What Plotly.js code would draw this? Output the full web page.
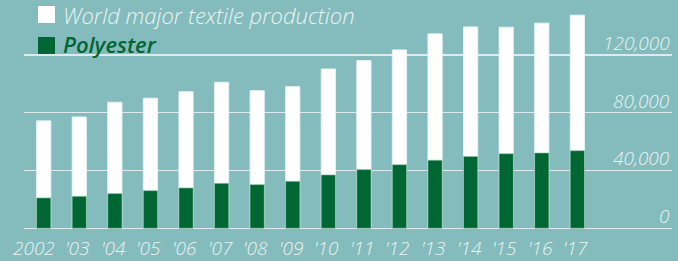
<!DOCTYPE html>
<html>
<head>
<meta charset="utf-8">
<script src="https://cdn.plot.ly/plotly-3.0.1.min.js"></script>
<style>html,body{margin:0;padding:0;background:#84bcbd;}#chart{width:678px;height:261px;}</style>
</head>
<body>
<div id="chart"></div>
<script>
// Data (thousand tonnes)
const years = ['2002', "'03", "'04", "'05", "'06", "'07", "'08", "'09", "'10", "'11", "'12", "'13", "'14", "'15", "'16", "'17"];
const totalProduction = [74300, 77000, 87200, 90000, 94500, 101000, 95200, 98000, 110200, 116000, 123400, 134500, 139300, 139100, 141900, 147400];
const polyester = [21000, 22100, 24000, 26000, 27900, 31100, 30200, 32500, 36900, 40600, 44000, 47100, 49600, 51600, 52100, 53700];
const yTickVals = [0, 40000, 80000, 120000];
const yTickText = ['0', '40,000', '80,000', '120,000'];
const legendNames = ['World major textile production', 'Polyester'];

const BG = '#84bcbd';
const GREEN = '#006633';
const LABEL = 'rgba(255,255,255,0.85)';
const FONT = '"Open Sans", sans-serif';

const traces = [
  {type: 'bar', x: years, y: totalProduction, name: legendNames[0],
   marker: {color: '#ffffff', line: {color: 'rgba(230,245,245,0.9)', width: 1}}, width: 0.4, hoverinfo: 'x+y'},
  {type: 'bar', x: years, y: polyester, name: legendNames[1],
   marker: {color: GREEN, line: {color: 'rgba(140,200,170,0.6)', width: 1}}, width: 0.4, hoverinfo: 'x+y'}
];

const annotations = [];
years.forEach(function (yr, i) {
  annotations.push({x: i, xref: 'x', y: 0, yref: 'paper', yshift: -2, text: yr, showarrow: false,
    xanchor: 'right', xshift: 13, yanchor: 'top',
    font: {family: FONT, size: 19, color: LABEL, style: 'italic', weight: 300}});
});
yTickVals.forEach(function (v, i) {
  annotations.push({x: 1, xref: 'paper', y: v, yref: 'y', yshift: -3, text: yTickText[i], showarrow: false,
    xanchor: 'right', yanchor: 'bottom', font: {family: FONT, size: 19, color: LABEL, style: 'italic', weight: 300}});
});
// legend texts
annotations.push({x: 62, xref: 'paper', y: 15, yref: 'paper', text: legendNames[0], showarrow: false, borderpad: 0,
  xanchor: 'left', yanchor: 'middle', font: {family: FONT, size: 22, color: LABEL, style: 'italic', weight: 300}});
annotations.push({x: 62, xref: 'paper', y: 44, yref: 'paper', text: legendNames[1], showarrow: false, borderpad: 0,
  xanchor: 'left', yanchor: 'middle', font: {family: FONT, size: 22, color: GREEN, style: 'italic', weight: 600}});

const W = 678, H = 261, ML = 24, MR = 6, MT = 0, MB = 30;
const pw = W - ML - MR, ph = H - MT - MB;
// convert pixel positions of the manual legend to paper coords
annotations.forEach(function (a) {
  if (a.xref === 'paper' && a.x > 1) { a.x = (a.x - ML) / pw; }
  if (a.yref === 'paper' && a.y > 1) { a.y = 1 - (a.y - MT) / ph; }
});
function rectPaper(x0, y0, x1, y1, color) {
  return {type: 'rect', xref: 'paper', yref: 'paper', x0: (x0 - ML) / pw, x1: (x1 - ML) / pw,
    y0: 1 - (y1 - MT) / ph, y1: 1 - (y0 - MT) / ph, fillcolor: color, line: {width: 0}, layer: 'above'};
}
const shapes = [rectPaper(38, 6, 55, 23, '#ffffff'), rectPaper(38, 37, 55, 54, GREEN)];

const layout = {
  width: W, height: H,
  margin: {l: ML, r: MR, t: MT, b: MB, pad: 0},
  paper_bgcolor: BG, plot_bgcolor: BG,
  barmode: 'overlay',
  showlegend: false,
  xaxis: {type: 'category', range: [-0.554, 17.66], showticklabels: false, showgrid: false,
    zeroline: false, showline: false, ticks: '', fixedrange: true},
  yaxis: {range: [-1870, 157900], tickvals: yTickVals, showticklabels: false, showgrid: true,
    gridcolor: 'rgba(235,245,245,0.85)', gridwidth: 1.5, zeroline: true, zerolinecolor: 'rgba(235,245,245,0.85)',
    zerolinewidth: 1.5, showline: false, ticks: '', fixedrange: true},
  annotations: annotations,
  shapes: shapes,
  font: {family: FONT}
};

Plotly.newPlot('chart', traces, layout, {displayModeBar: false, staticPlot: true});
</script>
</body>
</html>
